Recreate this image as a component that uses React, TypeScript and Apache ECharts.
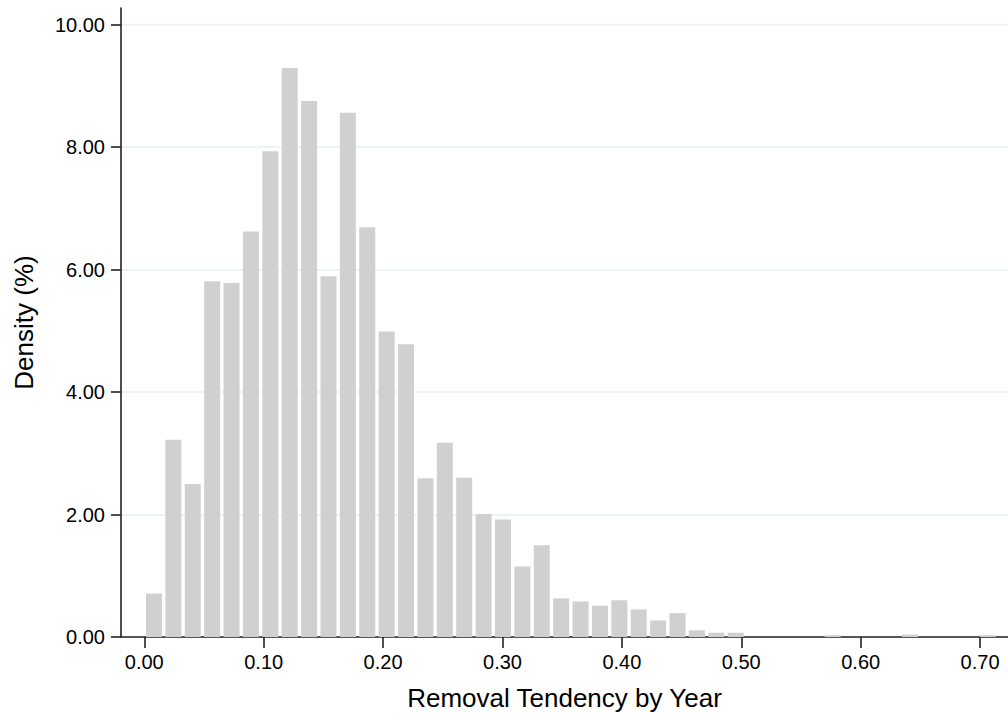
import React, { useEffect, useRef } from "react";
import * as echarts from "echarts";

// Histogram: bins start at 0, each of equal width
const binStart = 0;
const binWidth = 0.01624;
const densities = [
  0.71, 3.22, 2.5, 5.81, 5.78, 6.62, 7.93, 9.29, 8.75, 5.89, 8.56, 6.69,
  4.99, 4.78, 2.59, 3.17, 2.6, 2.01, 1.92, 1.15, 1.5, 0.63, 0.58, 0.51,
  0.6, 0.45, 0.27, 0.39, 0.11, 0.07, 0.07, 0, 0, 0, 0, 0.03, 0, 0, 0, 0.04,
  0, 0, 0, 0.03,
];
const xTicks = [0, 0.1, 0.2, 0.3, 0.4, 0.5, 0.6, 0.7];
const yTicks = [0, 2, 4, 6, 8, 10];
const xTitle = "Removal Tendency by Year";
const yTitle = "Density (%)";

const FONT = "'Liberation Sans', Arial, Helvetica, sans-serif";

export default function App() {
  const ref = useRef<HTMLDivElement>(null);
  useEffect(() => {
    if (!ref.current) return;
    const chart = echarts.init(ref.current, undefined, { renderer: "svg" });
    const data = densities.map((d, i) => [
      binStart + i * binWidth,
      binStart + (i + 1) * binWidth,
      d,
    ]);
    chart.setOption({
      animation: false,
      backgroundColor: "#ffffff",
      grid: { left: 121, right: 0, top: 8, bottom: 82, containLabel: false },
      xAxis: {
        type: "value",
        min: -0.0195,
        max: 0.7234,
        name: xTitle,
        nameLocation: "middle",
        nameGap: 48,
        nameTextStyle: { fontFamily: FONT, fontSize: 26, color: "#000" },
        axisLine: { show: true, onZero: false, lineStyle: { color: "#222", width: 1.6 } },
        axisTick: {
          show: true,
          length: 11,
          customValues: xTicks,
          lineStyle: { color: "#222", width: 1.6 },
        },
        axisLabel: {
          customValues: xTicks,
          margin: 15,
          fontFamily: FONT,
          fontSize: 20,
          color: "#000",
          formatter: (v: number) => v.toFixed(2),
        },
        splitLine: { show: false },
      },
      yAxis: {
        type: "value",
        min: 0,
        max: 10.27,
        name: yTitle,
        nameLocation: "middle",
        nameGap: 84,
        nameTextStyle: { fontFamily: FONT, fontSize: 26, color: "#000" },
        axisLine: { show: true, onZero: false, lineStyle: { color: "#222", width: 1.6 } },
        axisTick: {
          show: true,
          length: 10,
          customValues: yTicks,
          lineStyle: { color: "#222", width: 1.6 },
        },
        axisLabel: {
          customValues: yTicks,
          margin: 16,
          fontFamily: FONT,
          fontSize: 20,
          color: "#000",
          formatter: (v: number) => v.toFixed(2),
        },
        splitLine: { show: true, lineStyle: { color: "#e6f0f2", width: 1.6 } },
      },
      series: [
        {
          type: "custom",
          clip: true,
          encode: { x: [0, 1], y: 2 },
          data,
          renderItem: (params: any, api: any) => {
            const x0 = api.value(0);
            const x1 = api.value(1);
            const v = api.value(2);
            if (!v) return null;
            const p0 = api.coord([x0, v]);
            const p1 = api.coord([x1, 0]);
            return {
              type: "rect",
              shape: {
                x: p0[0] + 1.7,
                y: p0[1],
                width: p1[0] - p0[0] - 3.4,
                height: p1[1] - p0[1],
              },
              style: { fill: "#d0d0d0" },
            };
          },
        },
      ],
    });
    return () => chart.dispose();
  }, []);
  return (
    <div
      ref={ref}
      style={{ position: "absolute", left: 0, top: 0, width: 1008, height: 719 }}
    />
  );
}
